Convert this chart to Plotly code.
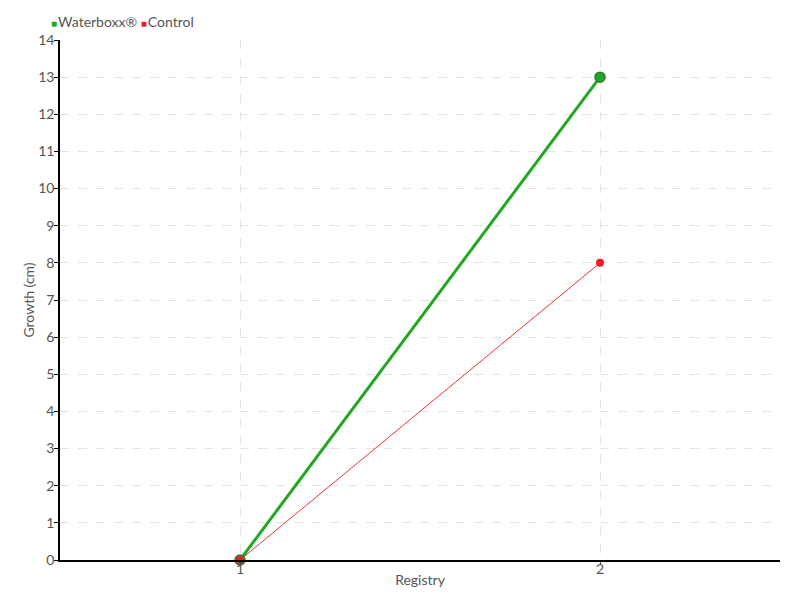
import plotly.graph_objects as go

registry = [1, 2]
waterboxx = [0, 13]
control = [0, 8]
y_ticks = list(range(0, 15))
series_names = ["Waterboxx®", "Control"]

FONT = "Lato, sans-serif"
GREEN = "#22a722"
RED = "#ee1c25"
TXT = "#555555"

fig = go.Figure()
fig.add_trace(go.Scatter(
    x=registry, y=waterboxx, mode="lines+markers", name=series_names[0], showlegend=False,
    line=dict(color=GREEN, width=3), cliponaxis=False,
    marker=dict(size=10, color=GREEN, line=dict(color="#2e7d2e", width=1.5)),
))
fig.add_trace(go.Scatter(
    x=registry, y=control, mode="lines+markers", name=series_names[1], showlegend=False,
    line=dict(color="#f0303c", width=1), cliponaxis=False,
    marker=dict(size=8, color=RED),
))

# legend drawn as text with square swatches (page has an 8px body offset)
gap = "<span style='font-size:4px'> </span>"
legend_text = (
    f"<span style='color:{GREEN};font-size:10px'>■</span>{gap}{series_names[0]} "
    f"<span style='color:{RED};font-size:10px'>■</span>{gap}{series_names[1]}"
)
fig.add_annotation(text=legend_text, xref="paper", yref="paper",
                   x=-(52 - 41) / 720, y=1 + (32 - 14) / 520,
                   xanchor="left", yanchor="middle", showarrow=False,
                   font=dict(family=FONT, size=14, color=TXT))

fig.update_layout(
    width=800, height=600,
    margin=dict(l=52, r=28, t=32, b=48),
    paper_bgcolor="white", plot_bgcolor="white",
    font=dict(family=FONT, color=TXT, size=14),
    showlegend=False,
    xaxis=dict(
        range=[0.5, 2.5], tickvals=registry, ticktext=[str(v) for v in registry],
        showline=True, linecolor="black", linewidth=1.5, automargin=False,
        showgrid=True, gridcolor="#e3e3e3", griddash="dash", gridwidth=1,
        ticks="outside", ticklen=3, tickcolor="#444", zeroline=False,
        ticklabelstandoff=-8,
        title=dict(text="Registry", font=dict(size=14, color=TXT), standoff=0),
        tickfont=dict(size=14, color=TXT),
    ),
    yaxis=dict(
        range=[0, 14], tickvals=y_ticks,
        showline=True, linecolor="black", linewidth=1.5, automargin=False,
        showgrid=True, gridcolor="#e3e3e3", griddash="dash", gridwidth=1,
        ticks="outside", ticklen=4, tickcolor="black", zeroline=False,
        ticklabelstandoff=-3,
        title=dict(text="Growth (cm)", font=dict(size=14, color=TXT), standoff=0),
        tickfont=dict(size=14, color=TXT),
    ),
)
fig.write_html("out.html")
